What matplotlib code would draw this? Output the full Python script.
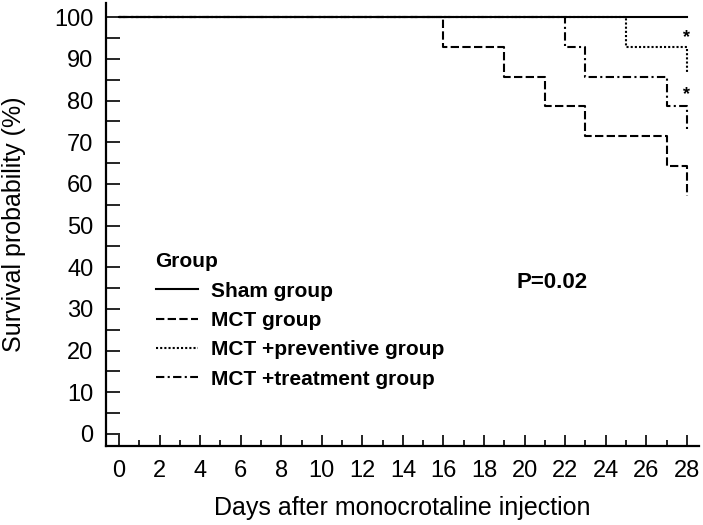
import matplotlib.pyplot as plt

plt.rcParams['font.family'] = ['Liberation Sans', 'DejaVu Sans']

# Kaplan-Meier step data (days, survival %)
sham_t = [0, 28]
sham_s = [100, 100]
mct_t = [0, 16, 19, 21, 23, 27, 28]
mct_s = [100, 92.9, 85.7, 78.6, 71.4, 64.3, 57.1]
prev_t = [0, 25, 28]
prev_s = [100, 92.9, 86.4]
treat_t = [0, 22, 23, 27, 28]
treat_s = [100, 92.9, 85.7, 78.6, 72.5]
star_y = [95.0, 81.5]

labels = ['Sham group', 'MCT group', 'MCT +preventive group', 'MCT +treatment group']

fig = plt.figure(figsize=(7.03, 5.25), dpi=100)
ax = fig.add_axes([106 / 703, 79 / 525, 593 / 703, 443 / 525])

lw = 1.5
h1, = ax.step(sham_t, sham_s, where='post', color='black', lw=lw)
h2, = ax.step(mct_t, mct_s, where='post', color='black', lw=lw, dashes=(4, 1.6))
h3, = ax.step(prev_t, prev_s, where='post', color='black', lw=lw, dashes=(1, 1))
h4, = ax.step(treat_t, treat_s, where='post', color='black', lw=lw, dashes=(4, 1.6, 1, 1.6))

for y in star_y:
    ax.text(28, y, '*', ha='center', va='center', fontsize=13, fontweight='bold')

ax.set_xlim(-0.64, 28.6)
ax.set_ylim(-2.9, 103.4)
ax.set_xticks(range(0, 29, 2))
ax.set_xticks(range(0, 29, 1), minor=True)
ax.set_yticks(range(0, 101, 10))
ax.set_yticks(range(0, 101, 5), minor=True)

for s in ['top', 'right']:
    ax.spines[s].set_visible(False)
for s in ['left', 'bottom']:
    ax.spines[s].set_linewidth(1.6)

ax.tick_params(axis='y', which='both', direction='in', length=10, width=1.2, labelsize=17, pad=9)
ax.tick_params(axis='x', which='major', direction='in', length=8, width=1.2, labelsize=17, pad=10)
ax.tick_params(axis='x', which='minor', direction='in', length=4, width=1.2)

ax.set_xlabel('Days after monocrotaline injection', fontsize=18, labelpad=10)
ax.set_ylabel('Survival probability (%)', fontsize=18, labelpad=20)

leg = ax.legend([h1, h2, h3, h4], labels, title='Group', frameon=False,
                loc='upper left', bbox_to_anchor=(0.052, 0.48),
                prop={'weight': 'bold', 'size': 15}, handlelength=2.05,
                handletextpad=0.63, labelspacing=0.5, alignment='left')
leg.get_title().set_fontweight('bold')
leg.get_title().set_fontsize(15)

ax.text(0.692, 0.356, 'P=0.02', transform=ax.transAxes, fontsize=16, fontweight='bold')

fig.savefig('out.png', dpi=100)
